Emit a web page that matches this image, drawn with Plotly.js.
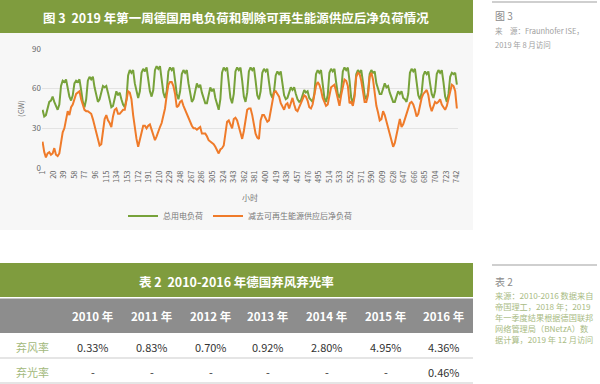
<!DOCTYPE html>
<html><head><meta charset="utf-8">
<script src="https://cdn.plot.ly/plotly-3.0.1.min.js"></script>
<style>html,body{margin:0;padding:0;background:#fff}#chart{width:600px;height:384px}</style>
</head><body><div id="chart"></div>
<script>
// x-axis tick labels (hour index)
const hourTicks = [1,20,39,58,77,96,115,134,153,172,191,210,229,248,267,286,305,324,343,362,381,400,419,438,457,476,495,514,533,552,571,590,609,628,647,666,685,704,723,742];

// 3-hourly readings (00,03,06,09,12,15,18,21 h), one row per day, GW
const totalLoad = [
44,39,40,45,50,51,54,50,
47,44,48,62,66,65,67,59,
54,51,55,64,66,65,67,59,
50,46,52,66,69,67,69,61,
54,50,52,58,62,61,62,57,
50,46,47,52,58,55,57,52,
48,46,52,70,74,72,74,64,
57,53,58,72,75,73,76,66,
58,54,59,74,77,75,77,67,
57,53,58,73,76,74,76,66,
56,52,58,71,74,72,74,64,
55,50,52,59,64,61,63,57,
52,49,49,54,61,58,60,53,
48,44,52,72,76,74,76,66,
53,49,56,73,76,74,76,66,
54,50,57,73,76,74,76,66,
55,52,58,72,75,73,75,65,
56,53,58,70,73,71,73,64,
55,52,53,57,61,59,61,56,
52,50,51,55,59,57,58,53,
51,50,56,71,74,72,74,65,
53,50,55,72,75,73,75,65,
56,53,58,73,76,74,76,66,
53,49,56,71,74,72,74,65,
55,52,57,71,74,72,73,64,
60,56,56,60,64,61,62,57,
53,50,50,54,58,56,58,53,
52,50,56,72,75,73,75,65,
55,52,57,70,73,71,73,64,
56,53,58,71,74,72,74,65,
54,50,56,69,72,71,72,63
];
const netLoad = [
20,12,8,11,12,10,11,15,
10,9,11,19,27,30,38,43,
40,46,48,53,56,57,58,52,
47,44,43,43,42,41,37,32,
27,21,17,18,30,37,40,36,
34,31,39,44,45,41,41,43,
44,44,50,58,57,52,40,30,
22,16,21,28,32,32,30,32,
33,29,24,21,24,28,31,34,
39,45,55,63,65,65,62,56,
46,47,50,51,47,44,40,37,
34,32,30,30,29,30,31,26,
26,26,24,21,20,19,18,16,
13,11,14,15,17,28,35,36,
33,30,37,38,36,31,27,22,
28,36,44,45,45,40,33,26,
23,22,36,40,40,37,35,36,
43,51,57,58,56,54,49,46,
44,48,49,45,49,53,48,44,
43,46,50,53,55,54,51,46,
45,48,54,62,65,63,59,53,
50,47,48,55,61,62,63,58,
53,47,55,62,67,66,62,49,
50,47,54,69,72,71,66,58,
50,50,55,69,72,67,55,47,
42,36,37,43,40,35,30,24,
20,16,19,26,33,37,31,33,
37,41,46,49,50,48,44,39,
41,47,53,56,58,59,55,47,
43,47,50,49,50,52,48,46,
44,47,53,59,63,62,58,45
];
const seriesNames = ['总用电负荷', '减去可再生能源供应后净负荷'];

// table 2
const tableYears = ['2010 年','2011 年','2012 年','2013 年','2014 年','2015 年','2016 年'];
const rowLabels = ['弃风率','弃光率'];
const windCurtail = ['0.33%','0.83%','0.70%','0.92%','2.80%','4.95%','4.36%'];
const solarCurtail = ['-','-','-','-','-','-','0.46%'];

const hours = totalLoad.map((_, i) => 1 + 3 * i);

const W = 600, H = 384;
const px = x => x / W, py = y => 1 - y / H;
const FONT = '"Noto Sans CJK SC", "Noto Sans", sans-serif';
const GREEN_BAR = '#7f9c3e';

const traces = [
  {x: hours, y: totalLoad, type: 'scatter', mode: 'lines', name: seriesNames[0],
   line: {color: '#77a23a', width: 2}},
  {x: hours, y: netLoad, type: 'scatter', mode: 'lines', name: seriesNames[1],
   line: {color: '#ef7b2a', width: 2}}
];

const colX = [93, 152, 211, 268, 327, 386, 444];
const shapes = [
  {type:'rect', xref:'paper', yref:'paper', x0:0, x1:px(473), y0:py(230), y1:py(0), fillcolor:'#f7f7f7', line:{width:0}, layer:'below'},
  {type:'rect', xref:'paper', yref:'paper', x0:0, x1:px(473), y0:py(33), y1:py(0), fillcolor:GREEN_BAR, line:{width:0}, layer:'below'},
  {type:'line', xref:'paper', yref:'paper', x0:px(492), x1:px(597), y0:py(2), y1:py(2), line:{color:'#cfcfcf', width:2}},
  {type:'rect', xref:'paper', yref:'paper', x0:0, x1:px(473), y0:py(297), y1:py(263), fillcolor:GREEN_BAR, line:{width:0}, layer:'below'},
  {type:'rect', xref:'paper', yref:'paper', x0:0, x1:px(473), y0:py(333), y1:py(298.5), fillcolor:'#8d8d8d', line:{width:0}, layer:'below'},
  {type:'line', xref:'paper', yref:'paper', x0:0, x1:px(473), y0:py(358), y1:py(358), line:{color:'#dcdcdc', width:1.5}},
  {type:'line', xref:'paper', yref:'paper', x0:0, x1:px(473), y0:py(383), y1:py(383), line:{color:'#dcdcdc', width:1.5}},
  {type:'line', xref:'paper', yref:'paper', x0:px(492), x1:px(597), y0:py(265), y1:py(265), line:{color:'#cfcfcf', width:2}}
];

const ann = (text, x, y, opts={}) => Object.assign({
  text, xref:'paper', yref:'paper', x:px(x), y:py(y), showarrow:false,
  xanchor:'center', yanchor:'middle', font:{family:FONT, size:8, color:'#777'}
}, opts);

const annotations = [
  ann('<b>图 3  2019 年第一周德国用电负荷和剔除可再生能源供应后净负荷情况</b>', 236, 17, {font:{family:FONT, size:12.5, color:'#ffffff'}}),
  ann('<b>表 2  2010-2016 年德国弃风弃光率</b>', 236, 281, {font:{family:FONT, size:12.5, color:'#ffffff'}}),
  ann('图 3', 493, 15, {xanchor:'left', font:{family:FONT, size:10, color:'#8a8a8a'}}),
  ann('来　源：Fraunhofer ISE，', 493, 30, {xanchor:'left', font:{family:FONT, size:7.5, color:'#a0a0a0'}}),
  ann('2019 年 8 月访问', 493, 44, {xanchor:'left', font:{family:FONT, size:7.5, color:'#a0a0a0'}}),
  ann('表 2', 493, 281, {xanchor:'left', font:{family:FONT, size:10, color:'#8a8a8a'}}),
];
const noteLines = ['来源：2010-2016 数据来自', '帝国理工，2018 年；2019', '年一季度结果根据德国联邦', '网络管理局（BNetzA）数', '据计算，2019 年 12 月访问'];
noteLines.forEach((t, i) => annotations.push(ann(t, 493, 295 + i * 11, {xanchor:'left', font:{family:FONT, size:8.2, color:'#a9bb84'}})));
tableYears.forEach((t, i) => annotations.push(ann('<b>' + t + '</b>', colX[i], 316, {font:{family:FONT, size:11.5, color:'#ffffff'}})));
rowLabels.forEach((t, i) => annotations.push(ann(t, 32, 347 + i * 25, {font:{family:FONT, size:11, color:'#a3b97c'}})));
windCurtail.forEach((t, i) => annotations.push(ann(t, colX[i], 347, {font:{family:FONT, size:11, color:'#333'}})));
solarCurtail.forEach((t, i) => annotations.push(ann(t, colX[i], 372, {font:{family:FONT, size:11, color:'#333'}})));

const layout = {
  width: W, height: H,
  margin: {l:0, r:0, t:0, b:0},
  paper_bgcolor: '#ffffff', plot_bgcolor: 'rgba(0,0,0,0)',
  font: {family: FONT, color: '#777'},
  showlegend: true,
  legend: {orientation:'h', x:px(240), xanchor:'center', y:py(216), yanchor:'middle',
           font:{family:FONT, size:8, color:'#777'}, bgcolor:'rgba(0,0,0,0)', itemwidth:30},
  xaxis: {domain:[px(42), px(458)], range:[0, 744], tickmode:'array', tickvals:hourTicks,
          ticktext: hourTicks.map(String), tickangle:-90, showgrid:false, zeroline:false,
          showline:false, ticks:'', tickfont:{family:FONT, size:7.5, color:'#666'},
          title:{text:'小时', font:{family:FONT, size:8, color:'#777'}, standoff:13}},
  yaxis: {domain:[py(168), py(49)], range:[0, 90], tickvals:[0,30,60,90], showgrid:true,
          gridcolor:'#e3e3e3', gridwidth:1, zeroline:false, showline:false, ticks:'',
          tickfont:{family:FONT, size:8, color:'#666'},
          title:{text:'(GW)', font:{family:FONT, size:7.5, color:'#777'}, standoff:6}},
  shapes, annotations
};

Plotly.newPlot('chart', traces, layout, {staticPlot:true, displayModeBar:false});
</script></body></html>
